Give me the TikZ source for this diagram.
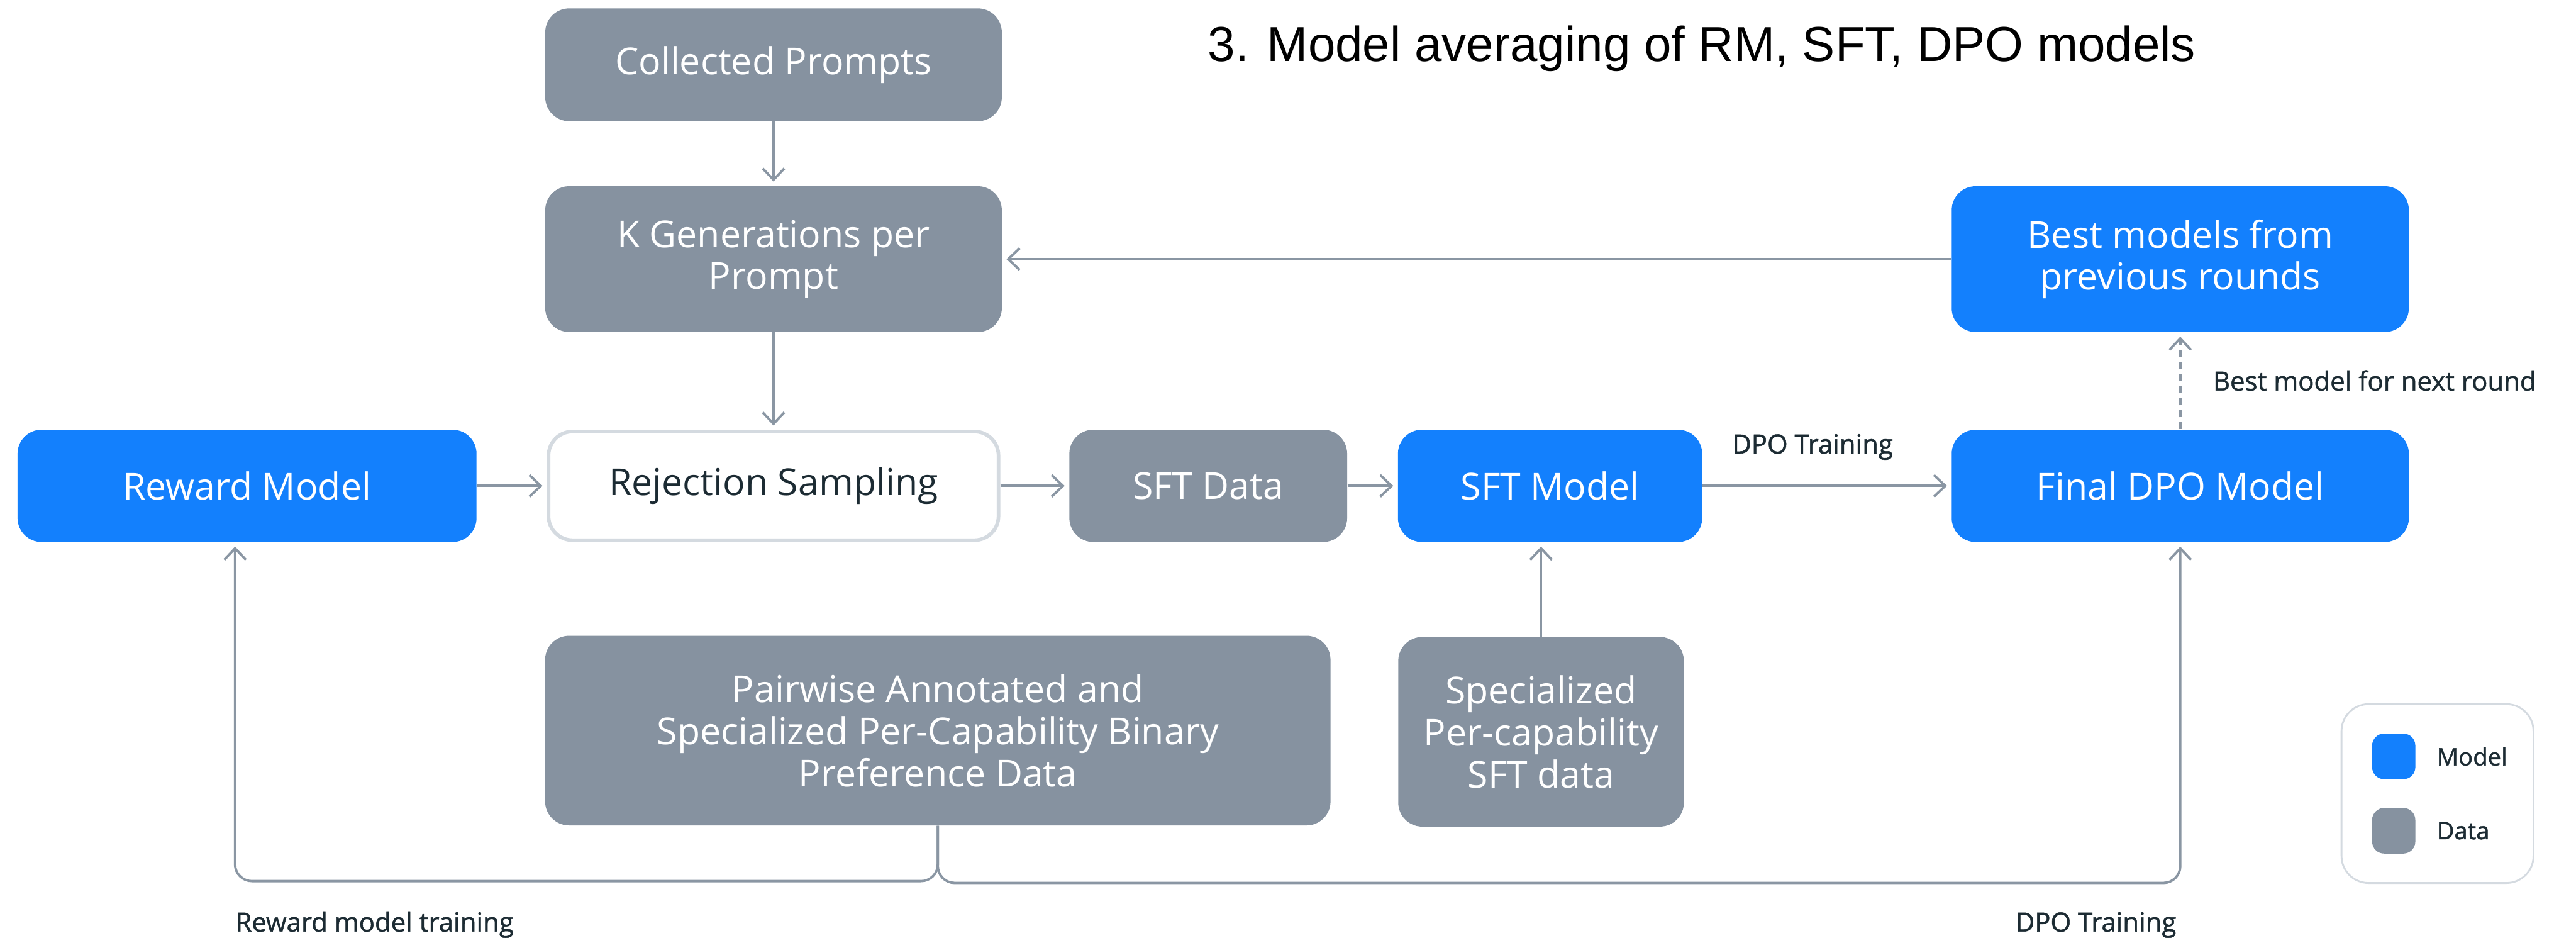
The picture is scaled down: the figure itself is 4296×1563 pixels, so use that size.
\documentclass[tikz,border=0pt]{standalone}
\usepackage{fontspec}
\setmainfont{Open Sans}
\newfontfamily\titlefont{Liberation Sans}
\newfontfamily\labelfont[FakeBold=1.2]{Open Sans}
\usetikzlibrary{arrows.meta,calc}

\definecolor{modelblue}{RGB}{19,128,253}
\definecolor{datagray}{RGB}{134,146,160}
\definecolor{linegray}{RGB}{138,150,163}
\definecolor{inkdark}{RGB}{28,43,51}
\definecolor{rimgray}{RGB}{212,218,224}

\begin{document}
\begin{tikzpicture}[x=0.01cm,y=-0.01cm,
  box/.style={rounded corners=0.4cm, inner sep=0pt, align=center, text=white,
    font=\fontsize{17.6pt}{19.9pt}\selectfont},
  modelbox/.style={box, fill=modelblue},
  databox/.style={box, fill=datagray},
  conn/.style={draw=linegray, line width=0.04cm,
    -{Straight Barb[length=0.19cm,width=0.36cm]}, shorten >=0.07cm},
  lbl/.style={text=inkdark, inner sep=0pt, font=\labelfont\fontsize{12.5pt}{15pt}\selectfont},
  legtext/.style={text=inkdark, inner sep=0pt, font=\labelfont\fontsize{11.4pt}{13pt}\selectfont},
  swatch/.style={rounded corners=0.2cm, minimum width=0.72cm, minimum height=0.76cm, inner sep=0pt},
]
\useasboundingbox (0,0) rectangle (4296,1563);

% title
\node[anchor=base west, inner sep=0pt, font=\titlefont\fontsize{23.3pt}{28pt}\selectfont]
  (title) at (2014,102) {3. Model averaging of RM, SFT, DPO models};

% upper column
\node[databox, minimum width=7.61cm, minimum height=1.88cm] (cp) at (1290,108) {Collected Prompts};
\node[databox, minimum width=7.61cm, minimum height=2.43cm] (kg) at (1290,432) {K Generations per\\Prompt};
\node[modelbox, minimum width=7.62cm, minimum height=2.43cm] (bm) at (3636,432) {Best models from\\previous rounds};

% main row
\node[modelbox, minimum width=7.65cm, minimum height=1.87cm] (rm) at (412,810) {Reward Model};
\node[box, fill=white, draw=rimgray, line width=0.06cm, text=inkdark,
  minimum width=7.50cm, minimum height=1.81cm] (rs) at (1290,810) {Rejection Sampling};
\node[databox, minimum width=4.63cm, minimum height=1.87cm] (sd) at (2015,810) {SFT Data};
\node[modelbox, minimum width=5.07cm, minimum height=1.87cm] (sm) at (2585,810) {SFT Model};
\node[modelbox, minimum width=7.62cm, minimum height=1.87cm] (fd) at (3636,810) {Final DPO Model};

% lower data sources
\node[databox, minimum width=13.09cm, minimum height=3.16cm] (pw) at (1564,1218)
  {Pairwise Annotated and\\Specialized Per-Capability Binary\\Preference Data};
\node[databox, minimum width=4.76cm, minimum height=3.16cm] (sp) at (2570,1220)
  {Specialized\\Per-capability\\SFT data};

% connectors
\draw[conn] (cp) -- (kg);
\draw[conn] (kg) -- (rs);
\draw[conn] (rm) -- (rs);
\draw[conn] (rs) -- (sd);
\draw[conn] (sd) -- (sm);
\draw[conn] (sm) -- (fd);
\draw[conn] (bm) -- (kg);
\draw[conn, dash pattern=on 0.12cm off 0.08cm] (fd) -- (bm);
\draw[conn] (sp.north) -- (sp.north |- sm.south);

\coordinate (busL) at (392,1469);
\coordinate (busR) at (3636,1472);
\draw[conn, rounded corners=0.28cm] (pw.south) |- (busL) -- (busL |- rm.south);
\draw[conn, rounded corners=0.28cm] (pw.south) |- (busR) -- (busR |- fd.south);

% connector labels
\node[lbl, anchor=base west] (lbltop) at (2888,756) {DPO Training};
\node[lbl, anchor=base west] (lblbest) at (3690,651) {Best model for next round};
\node[lbl, anchor=base west] (lblrm) at (392,1553) {Reward model training};
\node[lbl, anchor=base east] (lblbot) at (3630,1553) {DPO Training};

% legend
\node[draw=rimgray, line width=0.03cm, rounded corners=0.45cm,
  minimum width=3.2cm, minimum height=2.98cm, inner sep=0pt] (legend) at (4065,1323) {};
\node[swatch, fill=modelblue] (swmodel) at (3992,1261) {};
\node[swatch, fill=datagray] (swdata) at (3992,1385) {};
\node[legtext, anchor=west] (txtmodel) at (4063,1261) {Model};
\node[legtext, anchor=west] (txtdata) at (4063,1385) {Data};
\end{tikzpicture}
\end{document}
